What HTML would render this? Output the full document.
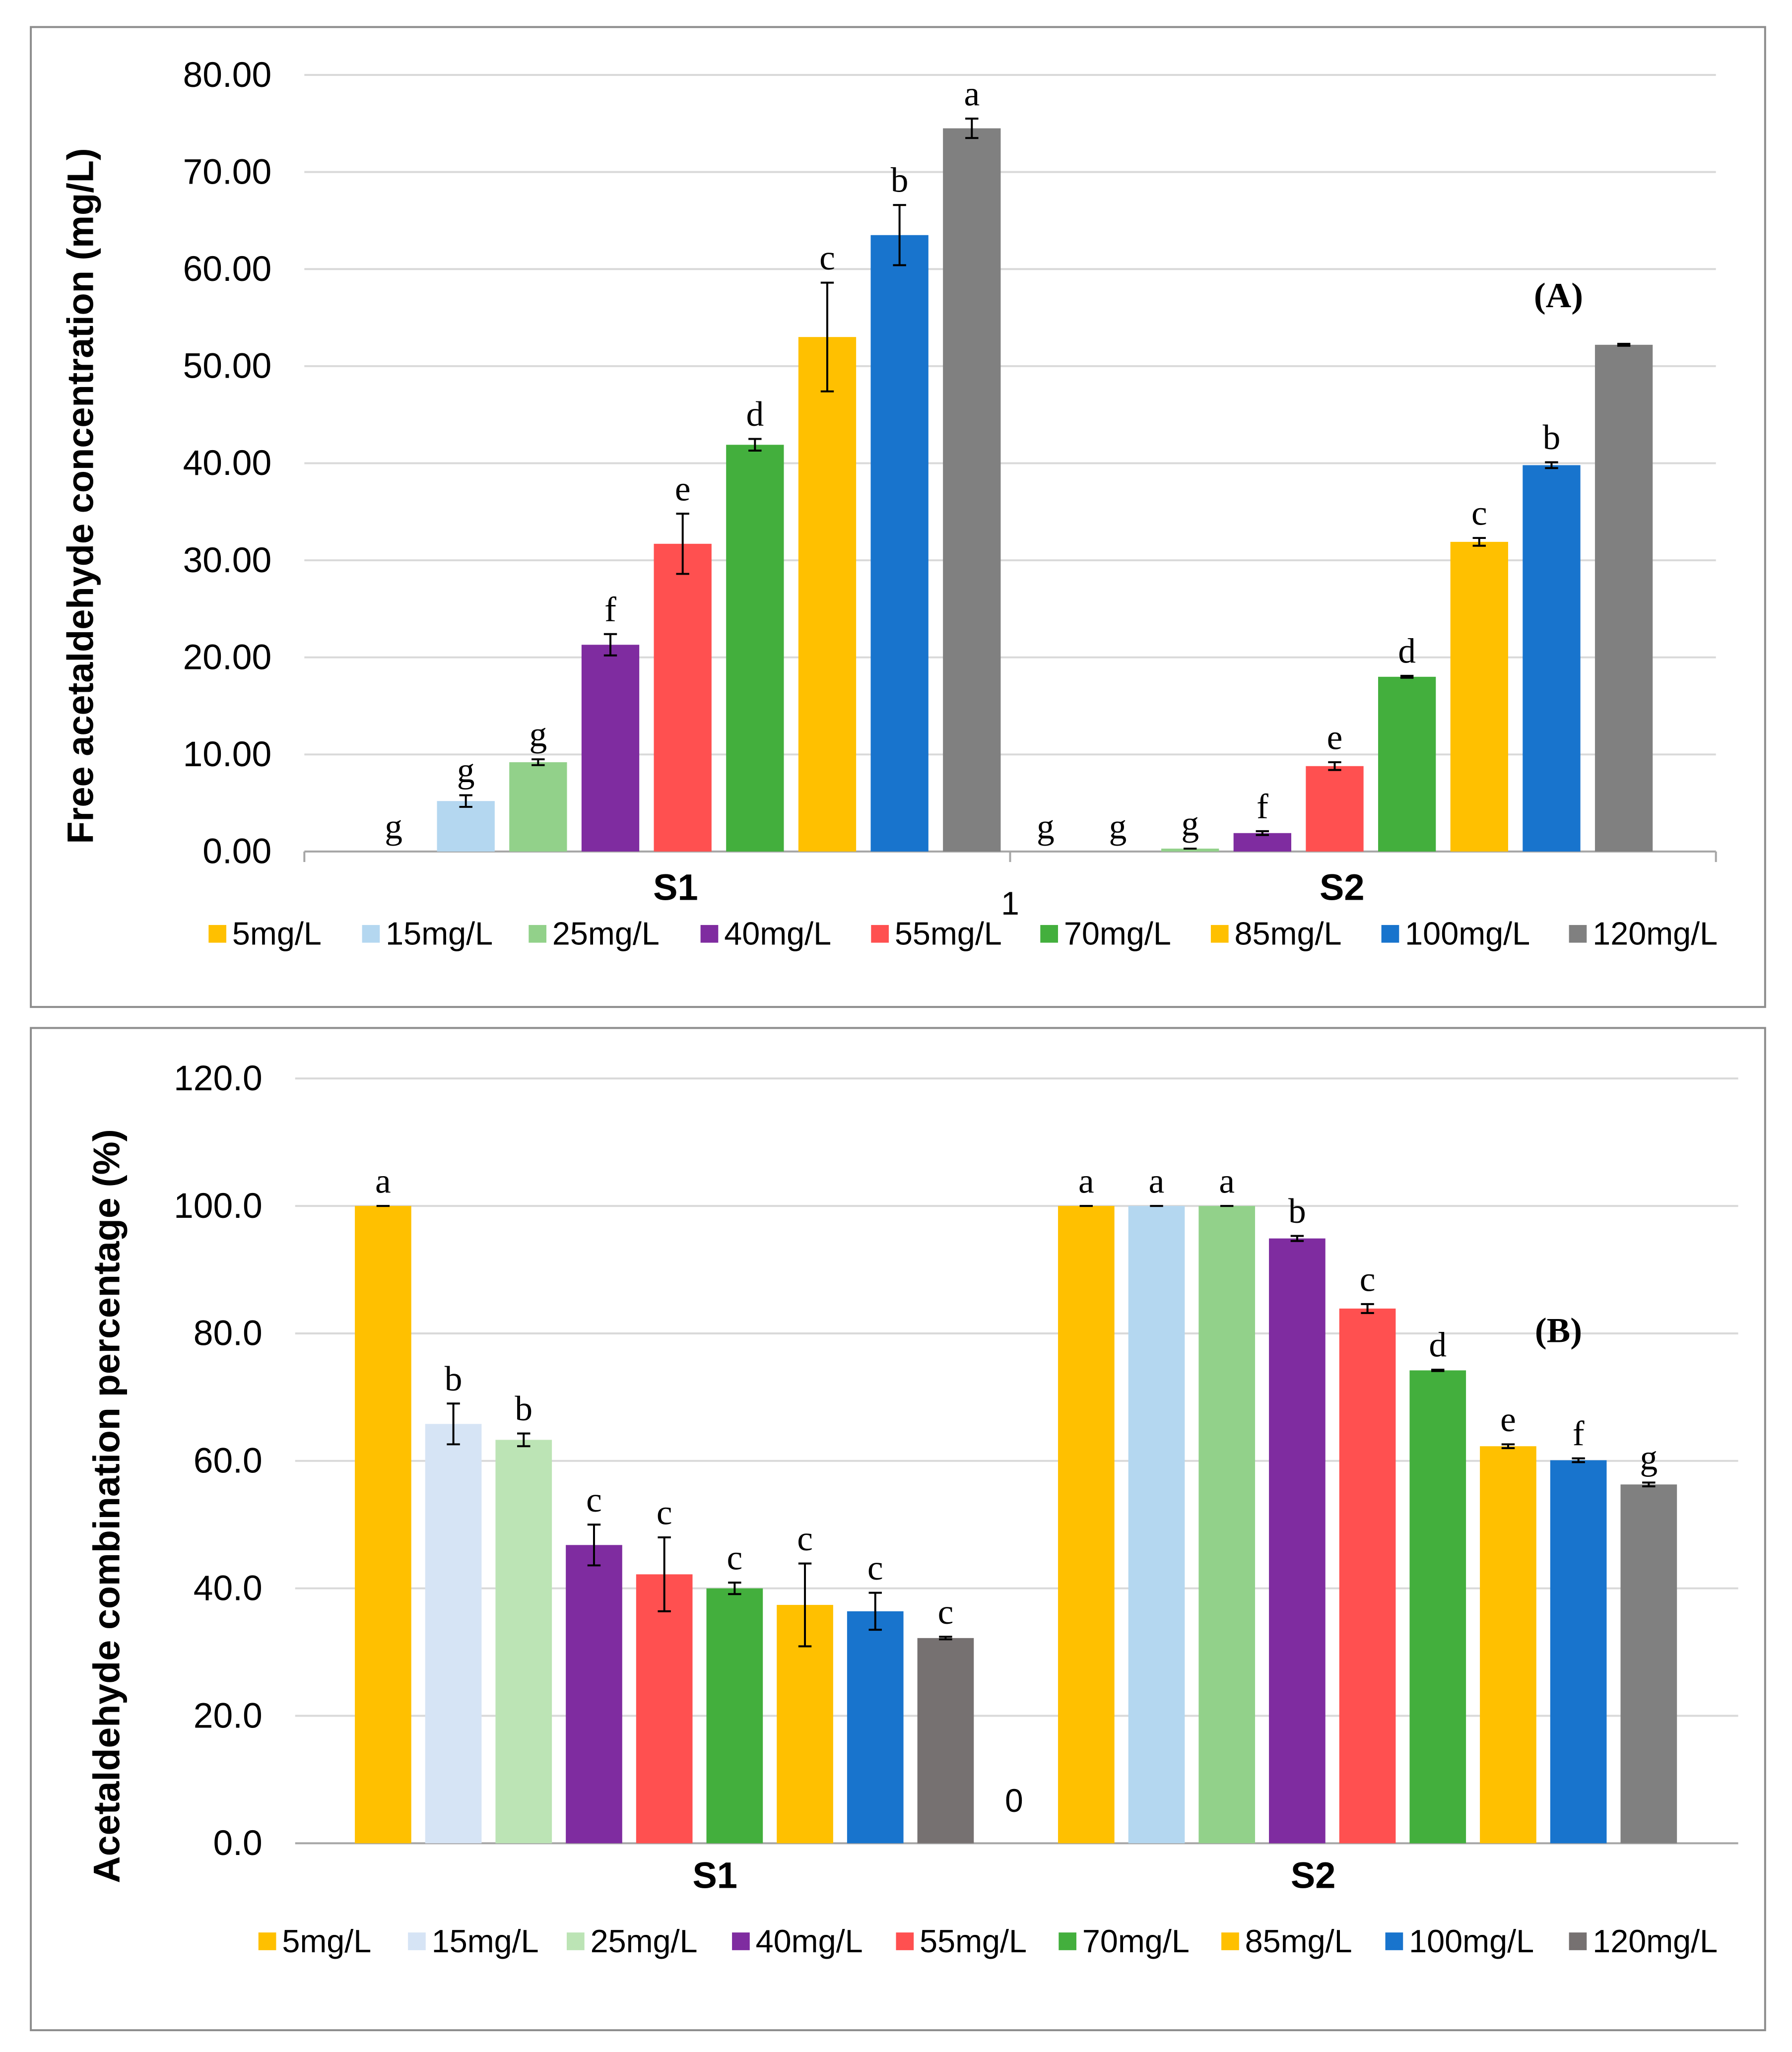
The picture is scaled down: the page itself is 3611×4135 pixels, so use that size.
<!DOCTYPE html>
<html><head><meta charset="utf-8">
<style>
html,body{margin:0;padding:0;background:#fff;}
svg{display:block;}
text{font-family:"Liberation Sans",Arial,sans-serif;}
.serif{font-family:"Liberation Serif","Times New Roman",serif;}
</style></head>
<body>
<svg id="fig" width="3611" height="4135" viewBox="0 0 1366 1564" xmlns="http://www.w3.org/2000/svg">
<rect x="0" y="0" width="1366" height="1564" fill="#fff"/>
<rect x="23.5" y="20.5" width="1322" height="747" fill="#fff" stroke="#8c8c8c" stroke-width="1.5"/>
<rect x="23.5" y="783.5" width="1322" height="764" fill="#fff" stroke="#8c8c8c" stroke-width="1.5"/>
<g id="chartA"></g>
<g id="chartB"></g>
</svg>
<script>
const legendLabels = ["5mg/L","15mg/L","25mg/L","40mg/L","55mg/L","70mg/L","85mg/L","100mg/L","120mg/L"];
const groups = ["S1","S2"];
const colorsA = ["#FFC000","#B4D7F0","#92D18A","#7F2CA0","#FF5050","#43AF3D","#FFC000","#1874CD","#808080"];
const colorsB1 = ["#FFC000","#D6E4F5","#BCE4B5","#7F2CA0","#FF5050","#43AF3D","#FFC000","#1874CD","#767171"];
const colorsB2 = ["#FFC000","#B4D7F0","#92D18A","#7F2CA0","#FF5050","#43AF3D","#FFC000","#1874CD","#808080"];
const ticksA = ["0.00","10.00","20.00","30.00","40.00","50.00","60.00","70.00","80.00"];
const tickValsA = [0,10,20,30,40,50,60,70,80];
const aS1 = [0,5.2,9.2,21.3,31.7,41.9,53.0,63.5,74.5];
const aS1err = [0,0.6,0.3,1.1,3.1,0.6,5.6,3.1,1.0];
const aS2 = [0,0,0.3,1.9,8.8,18.0,31.9,39.8,52.2];
const aS2err = [0,0,0,0.2,0.4,0.1,0.4,0.3,0.1];
const aS1letters = ["g","g","g","f","e","d","c","b","a"];
const aS2letters = ["g","g","g","f","e","d","c","b",""];
const ticksB = ["0.0","20.0","40.0","60.0","80.0","100.0","120.0"];
const tickValsB = [0,20,40,60,80,100,120];
const bS1 = [100,65.8,63.3,46.8,42.2,40.0,37.4,36.4,32.2];
const bS1err = [0,3.2,1.0,3.2,5.8,0.9,6.5,2.9,0.2];
const bS2 = [100,100,100,94.9,83.9,74.2,62.3,60.1,56.3];
const bS2err = [0,0,0,0.4,0.7,0.1,0.3,0.3,0.3];
const bS1letters = ["a","b","b","c","c","c","c","c","c"];
const bS2letters = ["a","a","a","b","c","d","e","f","g"];

const NS="http://www.w3.org/2000/svg";
function mk(parent,tag,attrs,txt){const e=document.createElementNS(NS,tag);for(const k in attrs)e.setAttribute(k,attrs[k]);if(txt!==undefined)e.textContent=txt;parent.appendChild(e);return e;}

function drawChart(g,cfg){
  const y=v=>cfg.y0-(v/cfg.ymax)*(cfg.y0-cfg.y1);
  cfg.tickVals.forEach((t,i)=>{
    const l=mk(g,'line',{x1:cfg.gx0,x2:cfg.gx1,y1:y(t),y2:y(t),stroke:i===0?'#a6a6a6':'#d9d9d9','stroke-width':1.5});
    
    
    const tx=mk(g,'text',{x:cfg.lx,y:y(t)+9,'text-anchor':'end','font-size':27,fill:'#000'},cfg.ticks[i]);
    
    
  });
  if(cfg.tickMarks){cfg.tickMarks.forEach(x=>{const t=mk(g,'line',{x1:x,x2:x,y1:cfg.y0,y2:cfg.y0+8,stroke:'#a6a6a6','stroke-width':1.5});});}
  const tt=mk(g,'text',{x:0,y:0,'font-size':cfg.titleSize,'font-weight':'bold','text-anchor':'middle',transform:`translate(${cfg.tx},${cfg.ty}) rotate(-90)`},cfg.title);
  
  
  cfg.series.forEach((s,gi)=>{
    s.vals.forEach((v,i)=>{
      const cx=s.x0+i*cfg.step, w=cfg.bw;
      const r=mk(g,'rect',{x:cx-w/2,y:y(v),width:w,height:cfg.y0-y(v),fill:s.colors[i]});
      
      
      const e=s.err[i];
      let top=y(v);
      if(e>0||v>0){
        const yt=y(v+e), yb=y(v-e);
        const eb=mk(g,'path',{d:`M${cx},${yt}V${yb}M${cx-5},${yt}H${cx+5}M${cx-5},${yb}H${cx+5}`,stroke:'#000','stroke-width':1.5,fill:'none'});
        
        
        top=yt;
      }
      if(s.letters[i]){
        const lt=mk(g,'text',{x:cx,y:top-10,'text-anchor':'middle','font-size':27,class:'serif'},s.letters[i]);
        
        
      }
    });
  });
  cfg.groupLabels.forEach((gl,i)=>{
    const t=mk(g,'text',{x:gl[0],y:gl[1],'text-anchor':'middle','font-size':28,'font-weight':'bold'},groups[i]);
    
    
  });
  const st=mk(g,'text',{x:cfg.stray[0],y:cfg.stray[1],'text-anchor':'middle','font-size':25},cfg.stray[2]);
  
  
  const pl=mk(g,'text',{x:cfg.panel[0],y:cfg.panel[1],'text-anchor':'middle','font-size':27,'font-weight':'bold',class:'serif'},cfg.panel[2]);
  
  
  cfg.legendX.forEach((lx,i)=>{
    const sq=mk(g,'rect',{x:lx,y:cfg.ly-7,width:13.5,height:13.5,fill:cfg.legendColors[i]});
    
    
    const t=mk(g,'text',{x:lx+18,y:cfg.ly+8,'font-size':24.5},legendLabels[i]);
    
    
  });
}

drawChart(document.getElementById('chartA'),{
  y0:649,y1:57,ymax:80,gx0:232,gx1:1308,lx:207,tickVals:tickValsA,ticks:ticksA,
  tickMarks:[232,770,1308],
  tx:71,ty:378,titleSize:28,title:"Free acetaldehyde concentration (mg/L)",
  step:55.1,bw:44,
  series:[{x0:300,vals:aS1,err:aS1err,letters:aS1letters,colors:colorsA},
          {x0:797,vals:aS2,err:aS2err,letters:aS2letters,colors:colorsA}],
  groupLabels:[[515,686],[1023,686]],stray:[770,697,"1"],panel:[1188,234,"(A)"],
  ly:712,legendX:[159,276,403,534,664,793,923,1053,1196],legendColors:colorsA
});
drawChart(document.getElementById('chartB'),{
  y0:1405,y1:822,ymax:120,gx0:225,gx1:1325,lx:200,tickVals:tickValsB,ticks:ticksB,
  tickMarks:null,
  tx:91,ty:1148,titleSize:28.5,title:"Acetaldehyde combination percentage (%)",
  step:53.6,bw:43,
  series:[{x0:292,vals:bS1,err:bS1err,letters:bS1letters,colors:colorsB1},
          {x0:828,vals:bS2,err:bS2err,letters:bS2letters,colors:colorsB2}],
  groupLabels:[[545,1439],[1001,1439]],stray:[773,1381,"0"],panel:[1188,1023,"(B)"],
  ly:1480,legendX:[197,311,432,558,683,807,931,1056,1196],legendColors:colorsB1
});
</script>
</body></html>
